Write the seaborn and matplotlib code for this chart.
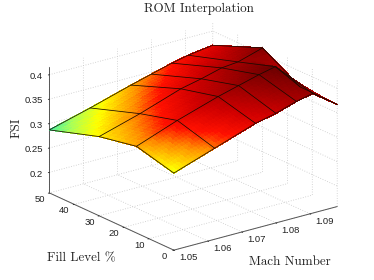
import numpy as np
import matplotlib
matplotlib.use("Agg")
import matplotlib.pyplot as plt
from matplotlib.colors import LinearSegmentedColormap
from matplotlib.transforms import ScaledTranslation
import seaborn as sns

mach = [1.05, 1.062, 1.074, 1.08, 1.086, 1.0908, 1.098]
fill = [0, 15, 30, 50]
fsi_fill0 = [.3157, .3444, .3730, .3823, .3956, .4029, .3669]
fsi_fill15 = [.3354, .3661, .3927, .4040, .4152, .4226, .3681]
fsi_fill30 = [.3202, .3448, .3734, .3827, .3939, .3972, .4124]
fsi_fill50 = [.2870, .3096, .3341, .3454, .3567, .3640, .3710]
mach_ticks = [1.05, 1.06, 1.07, 1.08, 1.09]
fill_ticks = [0, 10, 20, 30, 40, 50]
fsi_ticks = [0.2, 0.25, 0.3, 0.35, 0.4]
mach_lim = (1.05, 1.098)
fill_lim = (0, 50)
fsi_lim = (0.158, 0.416)
color_levels = [.285, .300, .317, .340, .358, .380, .400, .425]
color_stops = ["#3cf0aa", "#a8ff5a", "#ffff00", "#ff9000", "#ff1000", "#d00000", "#a00000", "#660000"]

sns.set_theme(style="white", rc={"font.family": ["Liberation Sans", "DejaVu Sans"], "axes.unicode_minus": False})

M = np.array(mach); F = np.array(fill, float)
Z = np.array([fsi_fill0, fsi_fill15, fsi_fill30, fsi_fill50])

fig = plt.figure(figsize=(3.74, 2.80), dpi=100, facecolor="white")
ax = fig.add_axes([2.5/374, -0.5/280, 1.0, 1.0], projection="3d", proj_type="ortho", computed_zorder=False)
ax.view_init(elev=20.5, azim=-127.3)
ax.set_box_aspect((1, 1, 0.655), zoom=1.11)
ax.set_xlim(*mach_lim); ax.set_ylim(*fill_lim); ax.set_zlim(*fsi_lim)

# smooth colour rendering of each mesh cell (bilinear inside the cell)
n = 12
fm = np.concatenate([np.linspace(M[i], M[i+1], n, endpoint=False) for i in range(len(M)-1)] + [[M[-1]]])
ff = np.concatenate([np.linspace(F[i], F[i+1], n, endpoint=False) for i in range(len(F)-1)] + [[F[-1]]])
Zc = np.array([np.interp(fm, M, row) for row in Z])
Zf = np.array([np.interp(ff, F, Zc[:, j]) for j in range(Zc.shape[1])]).T
XX, YY = np.meshgrid(fm, ff)
lo, hi = color_levels[0], color_levels[-1]
cmap = LinearSegmentedColormap.from_list(
    "rom", [((v - lo) / (hi - lo), c) for v, c in zip(color_levels, color_stops)], N=64)
norm = plt.Normalize(lo, hi)
cent = (Zf[:-1, :-1] + Zf[1:, :-1] + Zf[:-1, 1:] + Zf[1:, 1:]) / 4
fc = np.ones(Zf.shape + (4,))
fc[:-1, :-1] = cmap(norm(cent))
surf = ax.plot_surface(XX, YY, Zf, facecolors=fc, rstride=1, cstride=1, shade=False,
                       linewidth=0.4, antialiased=False, zorder=2)
surf.set_edgecolor(fc[:-1, :-1].reshape(-1, 4))
surf.set_clip_on(False)
for i in range(len(F)):
    ax.plot(M, np.full_like(M, F[i]), Z[i], color="#1a0a00", lw=0.55, zorder=3, clip_on=False)
for j in range(len(M)):
    ax.plot(np.full_like(F, M[j]), F, Z[:, j], color="#1a0a00", lw=0.55, zorder=3, clip_on=False)

ax.set_xticks(mach_ticks); ax.set_xticklabels([f"{v:.2f}" for v in mach_ticks])
ax.set_yticks(fill_ticks); ax.set_yticklabels([str(v) for v in fill_ticks])
ax.set_zticks(fsi_ticks); ax.set_zticklabels([f"{v:g}" for v in fsi_ticks])
for axis in (ax.xaxis, ax.yaxis, ax.zaxis):
    axis.set_pane_color((1, 1, 1, 0))
    axis.pane.set_edgecolor((1, 1, 1, 0))
    axis.line.set_color("#555555"); axis.line.set_linewidth(0.7)
    axis._axinfo["grid"].update(color="#c8c8c8", linewidth=0.6, linestyle=(0, (1, 2)))
    axis._axinfo["tick"].update(inward_factor=0.08, outward_factor=0.0)
    axis._axinfo["tick"]["linewidth"] = {True: 0.6, False: 0.6}
    axis.set_tick_params(labelsize=6.8, pad=-3, colors="#222222")
ax.zaxis.set_ticks_position("upper")

def nudge(axis, dx, dy, ha="center"):
    # Axis3D resets label transforms at draw time, so the shift is added on read
    shift = ScaledTranslation(dx/100, dy/100, fig.dpi_scale_trans)
    for tick in axis.get_major_ticks():
        tick.label1.get_transform = lambda: ax.transData + shift
        tick.label1.set_ha(ha)
nudge(ax.xaxis, 8.5, 6)
nudge(ax.yaxis, -2, 6)
nudge(ax.zaxis, 7, 2, ha="right")

cm = "cmr10"
fs = 9.4
fig.text(199/374, 1-9/280, "ROM Interpolation", family=cm, fontsize=fs, ha="center", va="center", color="#222222")
fig.text(290/374, 1-262/280, "Mach Number", family=cm, fontsize=fs, ha="center", va="center", color="#222222")
fig.text(81/374, 1-258/280, "Fill Level %", family=cm, fontsize=fs, ha="center", va="center", color="#222222")
fig.text(17/374, 1-128/280, "FSI", family=cm, fontsize=fs, rotation=90, ha="center", va="center", color="#222222")

fig.savefig("out.png", dpi=100)
